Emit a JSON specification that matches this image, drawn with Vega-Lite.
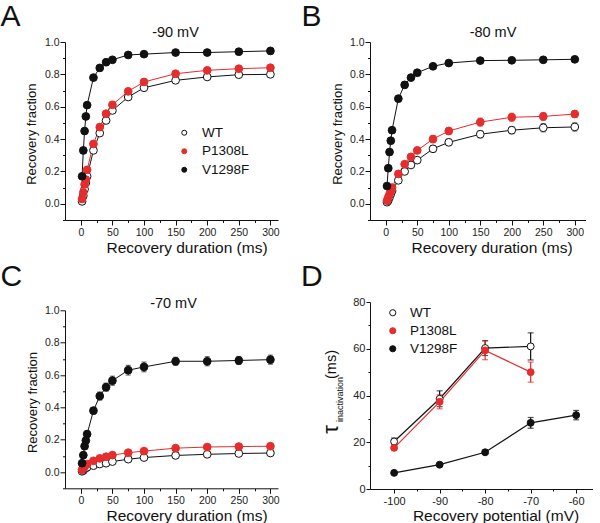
{
"$schema": "https://vega.github.io/schema/vega-lite/v6.json",
"background": "white",
"padding": {"left": 0, "top": 1, "right": 0, "bottom": 0},
"config": {
  "view": {"stroke": null},
  "font": "Liberation Sans",
  "axis": {"grid": false, "domainColor": "#111", "tickColor": "#111", "labelColor": "#222", "titleColor": "#111", "labelFont": "Liberation Sans", "titleFont": "Liberation Sans", "labelFontSize": 10.5, "titleFontSize": 15.5, "titleFontWeight": "normal", "domainWidth": 1, "tickWidth": 1, "labelOverlap": false, "labelBound": false, "labelFlush": false},
  "legend": {"labelFont": "Liberation Sans", "labelColor": "#111"}
},
"datasets": {
  "A": [
    {"g":"WT","t":2,"v":0.015,"e":0.005},{"g":"WT","t":4,"v":0.05,"e":0.008},{"g":"WT","t":6,"v":0.09,"e":0.01},{"g":"WT","t":8,"v":0.13,"e":0.01},{"g":"WT","t":10,"v":0.17,"e":0.012},{"g":"WT","t":20,"v":0.33,"e":0.015},{"g":"WT","t":30,"v":0.437,"e":0.015},{"g":"WT","t":40,"v":0.515,"e":0.015},{"g":"WT","t":50,"v":0.577,"e":0.015},{"g":"WT","t":75,"v":0.66,"e":0.015},{"g":"WT","t":100,"v":0.717,"e":0.012},{"g":"WT","t":150,"v":0.763,"e":0.012},{"g":"WT","t":200,"v":0.784,"e":0.012},{"g":"WT","t":250,"v":0.798,"e":0.012},{"g":"WT","t":300,"v":0.8,"e":0.012},
    {"g":"P1308L","t":2,"v":0.03,"e":0.008},{"g":"P1308L","t":4,"v":0.07,"e":0.01},{"g":"P1308L","t":6,"v":0.12,"e":0.012},{"g":"P1308L","t":8,"v":0.15,"e":0.012},{"g":"P1308L","t":10,"v":0.21,"e":0.015},{"g":"P1308L","t":20,"v":0.37,"e":0.015},{"g":"P1308L","t":30,"v":0.474,"e":0.018},{"g":"P1308L","t":40,"v":0.557,"e":0.018},{"g":"P1308L","t":50,"v":0.612,"e":0.018},{"g":"P1308L","t":75,"v":0.695,"e":0.018},{"g":"P1308L","t":100,"v":0.753,"e":0.015},{"g":"P1308L","t":150,"v":0.804,"e":0.012},{"g":"P1308L","t":200,"v":0.825,"e":0.012},{"g":"P1308L","t":250,"v":0.835,"e":0.012},{"g":"P1308L","t":300,"v":0.841,"e":0.012},
    {"g":"V1298F","t":2,"v":0.17,"e":0.01},{"g":"V1298F","t":4,"v":0.33,"e":0.01},{"g":"V1298F","t":6,"v":0.45,"e":0.01},{"g":"V1298F","t":8,"v":0.54,"e":0.01},{"g":"V1298F","t":10,"v":0.61,"e":0.01},{"g":"V1298F","t":20,"v":0.78,"e":0.01},{"g":"V1298F","t":30,"v":0.84,"e":0.01},{"g":"V1298F","t":40,"v":0.875,"e":0.01},{"g":"V1298F","t":50,"v":0.89,"e":0.01},{"g":"V1298F","t":75,"v":0.92,"e":0.01},{"g":"V1298F","t":100,"v":0.925,"e":0.01},{"g":"V1298F","t":150,"v":0.935,"e":0.01},{"g":"V1298F","t":200,"v":0.935,"e":0.01},{"g":"V1298F","t":250,"v":0.94,"e":0.01},{"g":"V1298F","t":300,"v":0.945,"e":0.01}
  ],
  "B": [
    {"g":"WT","t":2,"v":0.01,"e":0.004},{"g":"WT","t":4,"v":0.02,"e":0.005},{"g":"WT","t":6,"v":0.04,"e":0.007},{"g":"WT","t":8,"v":0.06,"e":0.008},{"g":"WT","t":10,"v":0.08,"e":0.01},{"g":"WT","t":20,"v":0.145,"e":0.012},{"g":"WT","t":30,"v":0.2,"e":0.013},{"g":"WT","t":40,"v":0.24,"e":0.015},{"g":"WT","t":50,"v":0.27,"e":0.015},{"g":"WT","t":75,"v":0.34,"e":0.02},{"g":"WT","t":100,"v":0.38,"e":0.02},{"g":"WT","t":150,"v":0.43,"e":0.022},{"g":"WT","t":200,"v":0.455,"e":0.022},{"g":"WT","t":250,"v":0.47,"e":0.025},{"g":"WT","t":300,"v":0.475,"e":0.025},
    {"g":"P1308L","t":2,"v":0.02,"e":0.005},{"g":"P1308L","t":4,"v":0.04,"e":0.007},{"g":"P1308L","t":6,"v":0.06,"e":0.008},{"g":"P1308L","t":8,"v":0.08,"e":0.01},{"g":"P1308L","t":10,"v":0.1,"e":0.01},{"g":"P1308L","t":20,"v":0.185,"e":0.012},{"g":"P1308L","t":30,"v":0.245,"e":0.015},{"g":"P1308L","t":40,"v":0.29,"e":0.015},{"g":"P1308L","t":50,"v":0.33,"e":0.018},{"g":"P1308L","t":75,"v":0.4,"e":0.022},{"g":"P1308L","t":100,"v":0.45,"e":0.022},{"g":"P1308L","t":150,"v":0.505,"e":0.025},{"g":"P1308L","t":200,"v":0.535,"e":0.025},{"g":"P1308L","t":250,"v":0.54,"e":0.025},{"g":"P1308L","t":300,"v":0.555,"e":0.022},
    {"g":"V1298F","t":2,"v":0.11,"e":0.01},{"g":"V1298F","t":4,"v":0.22,"e":0.01},{"g":"V1298F","t":6,"v":0.32,"e":0.01},{"g":"V1298F","t":8,"v":0.39,"e":0.01},{"g":"V1298F","t":10,"v":0.455,"e":0.01},{"g":"V1298F","t":20,"v":0.65,"e":0.01},{"g":"V1298F","t":30,"v":0.735,"e":0.01},{"g":"V1298F","t":40,"v":0.78,"e":0.01},{"g":"V1298F","t":50,"v":0.81,"e":0.01},{"g":"V1298F","t":75,"v":0.85,"e":0.01},{"g":"V1298F","t":100,"v":0.87,"e":0.01},{"g":"V1298F","t":150,"v":0.885,"e":0.01},{"g":"V1298F","t":200,"v":0.887,"e":0.01},{"g":"V1298F","t":250,"v":0.89,"e":0.01},{"g":"V1298F","t":300,"v":0.893,"e":0.01}
  ],
  "C": [
    {"g":"WT","t":2,"v":0.005,"e":0.006},{"g":"WT","t":4,"v":0.01,"e":0.006},{"g":"WT","t":6,"v":0.02,"e":0.007},{"g":"WT","t":8,"v":0.025,"e":0.008},{"g":"WT","t":10,"v":0.03,"e":0.008},{"g":"WT","t":20,"v":0.04,"e":0.01},{"g":"WT","t":30,"v":0.05,"e":0.01},{"g":"WT","t":40,"v":0.055,"e":0.01},{"g":"WT","t":50,"v":0.065,"e":0.01},{"g":"WT","t":75,"v":0.08,"e":0.012},{"g":"WT","t":100,"v":0.09,"e":0.012},{"g":"WT","t":150,"v":0.103,"e":0.012},{"g":"WT","t":200,"v":0.11,"e":0.012},{"g":"WT","t":250,"v":0.115,"e":0.012},{"g":"WT","t":300,"v":0.118,"e":0.012},
    {"g":"P1308L","t":2,"v":0.015,"e":0.006},{"g":"P1308L","t":4,"v":0.025,"e":0.006},{"g":"P1308L","t":6,"v":0.035,"e":0.007},{"g":"P1308L","t":8,"v":0.045,"e":0.007},{"g":"P1308L","t":10,"v":0.05,"e":0.008},{"g":"P1308L","t":20,"v":0.07,"e":0.008},{"g":"P1308L","t":30,"v":0.085,"e":0.008},{"g":"P1308L","t":40,"v":0.095,"e":0.008},{"g":"P1308L","t":50,"v":0.105,"e":0.008},{"g":"P1308L","t":75,"v":0.12,"e":0.008},{"g":"P1308L","t":100,"v":0.13,"e":0.008},{"g":"P1308L","t":150,"v":0.148,"e":0.008},{"g":"P1308L","t":200,"v":0.155,"e":0.008},{"g":"P1308L","t":250,"v":0.158,"e":0.008},{"g":"P1308L","t":300,"v":0.16,"e":0.008},
    {"g":"V1298F","t":2,"v":0.055,"e":0.01},{"g":"V1298F","t":4,"v":0.105,"e":0.012},{"g":"V1298F","t":6,"v":0.16,"e":0.015},{"g":"V1298F","t":8,"v":0.195,"e":0.015},{"g":"V1298F","t":10,"v":0.235,"e":0.018},{"g":"V1298F","t":20,"v":0.38,"e":0.02},{"g":"V1298F","t":30,"v":0.47,"e":0.025},{"g":"V1298F","t":40,"v":0.525,"e":0.025},{"g":"V1298F","t":50,"v":0.565,"e":0.028},{"g":"V1298F","t":75,"v":0.63,"e":0.03},{"g":"V1298F","t":100,"v":0.65,"e":0.03},{"g":"V1298F","t":150,"v":0.685,"e":0.025},{"g":"V1298F","t":200,"v":0.685,"e":0.028},{"g":"V1298F","t":250,"v":0.69,"e":0.025},{"g":"V1298F","t":300,"v":0.695,"e":0.028}
  ],
  "D": [
    {"g":"WT","t":-100,"v":20.3,"e":1.5},{"g":"WT","t":-90,"v":38.6,"e":3.4},{"g":"WT","t":-80,"v":60.3,"e":3.2},{"g":"WT","t":-70,"v":61,"e":5.8},
    {"g":"P1308L","t":-100,"v":17.6,"e":1},{"g":"P1308L","t":-90,"v":37.3,"e":3},{"g":"P1308L","t":-80,"v":59.3,"e":4},{"g":"P1308L","t":-70,"v":50,"e":4.3},
    {"g":"V1298F","t":-100,"v":6.9,"e":0.5},{"g":"V1298F","t":-90,"v":10.4,"e":0.7},{"g":"V1298F","t":-80,"v":15.7,"e":0.8},{"g":"V1298F","t":-70,"v":28.3,"e":2.3},{"g":"V1298F","t":-60,"v":31.6,"e":2}
  ]
},
"bounds": "flush",
"spacing": 305,
"resolve": {"scale": {"color": "independent", "fill": "independent", "stroke": "independent"}, "legend": {"color": "independent", "fill": "independent", "stroke": "independent"}},
"hconcat": [
 {"vconcat": [
  {
   "width": 213, "height": 178,
   "data": {"name": "A"},
   "resolve": {"axis": {"x": "independent", "y": "independent"}},
   "layer": [
    {"mark": {"type": "line", "strokeWidth": 1},
     "encoding": {
      "x": {"field": "t", "type": "quantitative", "scale": {"domain": [-25, 312], "nice": false, "zero": false},
            "axis": {"orient": "bottom", "values": [0,25,50,75,100,125,150,175,200,225,250,275,300], "labelExpr": "datum.value % 50 === 0 ? datum.value + '' : ''", "tickSize": {"condition": {"test": "datum.value % 50 !== 0", "value": 2.5}, "value": 5}, "labelPadding": 2.5, "title": "Recovery duration (ms)", "titleX": 121.5, "titleY": 32.5, "titleAlign": "center", "titleBaseline": "alphabetic"}},
      "y": {"field": "v", "type": "quantitative", "scale": {"domain": [-0.1, 1.0], "nice": false, "zero": false},
            "axis": {"orient": "left", "values": [-0.1,0,0.1,0.2,0.3,0.4,0.5,0.6,0.7,0.8,0.9,1.0], "labelExpr": "round(datum.value*10) % 2 === 0 ? format(datum.value, '.1f') : ''", "tickSize": {"condition": {"test": "round(datum.value*10) % 2 !== 0", "value": 2.5}, "value": 5}, "labelPadding": 1, "title": "Recovery fraction", "titleFontSize": 13, "titleX": -29.5, "titleY": 91.7, "titleAngle": -90, "titleAlign": "center", "titleBaseline": "alphabetic"}},
      "color": {"field": "g", "type": "nominal", "scale": {"range": ["#e52d2d","#111111","#111111"]}, "legend": null}
     }},
    {"mark": {"type": "errorbar", "ticks": {"size": 5}, "thickness": 1},
     "encoding": {
      "x": {"field": "t", "type": "quantitative", "axis": null},
      "y": {"field": "v", "type": "quantitative", "axis": null},
      "yError": {"field": "e"},
      "color": {"field": "g", "type": "nominal", "scale": {"range": ["#e52d2d","#111111","#111111"]}, "legend": null}
     }},
    {"mark": {"type": "circle", "size": 60, "opacity": 1, "strokeWidth": 1},
     "encoding": {
      "x": {"field": "t", "type": "quantitative", "axis": {"orient": "top", "domain": false, "ticks": false, "labels": false, "title": "-90 mV", "titleFontSize": 14.5, "titleX": 110, "titleY": -6, "titleAlign": "center", "titleBaseline": "alphabetic"}},
      "y": {"field": "v", "type": "quantitative", "axis": {"orient": "left", "domain": false, "ticks": false, "labels": false, "title": "A", "titleFontSize": 30, "titleAngle": 0, "titleX": -65, "titleY": -16.7, "titleAlign": "left", "titleBaseline": "alphabetic"}},
      "fill": {"field": "g", "type": "nominal", "scale": {"domain": ["WT","P1308L","V1298F"], "range": ["#ffffff","#e52d2d","#111111"]},
               "legend": {"orient": "none", "legendX": 112.5, "legendY": 84, "title": null, "labelFontSize": 13.5, "symbolSize": 25, "symbolStrokeWidth": 1, "symbolType": "circle", "labelOffset": 11, "rowPadding": 3.5, "padding": 0}},
      "stroke": {"field": "g", "type": "nominal", "scale": {"domain": ["WT","P1308L","V1298F"], "range": ["#111111","#e52d2d","#111111"]},
               "legend": {"orient": "none", "legendX": 112.5, "legendY": 84, "title": null, "labelFontSize": 13.5, "symbolSize": 25, "symbolStrokeWidth": 1, "symbolType": "circle", "labelOffset": 11, "rowPadding": 3.5, "padding": 0}}
     }}
   ]
  },
  {
   "width": 213, "height": 178,
   "data": {"name": "C"},
   "resolve": {"axis": {"x": "independent", "y": "independent"}},
   "layer": [
    {"mark": {"type": "line", "strokeWidth": 1},
     "encoding": {
      "x": {"field": "t", "type": "quantitative", "scale": {"domain": [-25, 312], "nice": false, "zero": false},
            "axis": {"orient": "bottom", "values": [0,25,50,75,100,125,150,175,200,225,250,275,300], "labelExpr": "datum.value % 50 === 0 ? datum.value + '' : ''", "tickSize": {"condition": {"test": "datum.value % 50 !== 0", "value": 2.5}, "value": 5}, "labelPadding": 2.5, "title": "Recovery duration (ms)", "titleX": 121.5, "titleY": 32.5, "titleAlign": "center", "titleBaseline": "alphabetic"}},
      "y": {"field": "v", "type": "quantitative", "scale": {"domain": [-0.1, 1.0], "nice": false, "zero": false},
            "axis": {"orient": "left", "values": [-0.1,0,0.1,0.2,0.3,0.4,0.5,0.6,0.7,0.8,0.9,1.0], "labelExpr": "round(datum.value*10) % 2 === 0 ? format(datum.value, '.1f') : ''", "tickSize": {"condition": {"test": "round(datum.value*10) % 2 !== 0", "value": 2.5}, "value": 5}, "labelPadding": 1, "title": "Recovery fraction", "titleFontSize": 13, "titleX": -29, "titleY": 91.7, "titleAngle": -90, "titleAlign": "center", "titleBaseline": "alphabetic"}},
      "color": {"field": "g", "type": "nominal", "scale": {"range": ["#e52d2d","#111111","#111111"]}, "legend": null}
     }},
    {"mark": {"type": "errorbar", "ticks": {"size": 5}, "thickness": 1},
     "encoding": {
      "x": {"field": "t", "type": "quantitative", "axis": null},
      "y": {"field": "v", "type": "quantitative", "axis": null},
      "yError": {"field": "e"},
      "color": {"field": "g", "type": "nominal", "scale": {"range": ["#e52d2d","#111111","#111111"]}, "legend": null}
     }},
    {"mark": {"type": "circle", "size": 60, "opacity": 1, "strokeWidth": 1},
     "encoding": {
      "x": {"field": "t", "type": "quantitative", "axis": {"orient": "top", "domain": false, "ticks": false, "labels": false, "title": "-70 mV", "titleFontSize": 14.5, "titleX": 108, "titleY": -3, "titleAlign": "center", "titleBaseline": "alphabetic"}},
      "y": {"field": "v", "type": "quantitative", "axis": {"orient": "left", "domain": false, "ticks": false, "labels": false, "title": "C", "titleFontSize": 30, "titleAngle": 0, "titleX": -65, "titleY": -25, "titleAlign": "left", "titleBaseline": "alphabetic"}},
      "fill": {"field": "g", "type": "nominal", "scale": {"domain": ["WT","P1308L","V1298F"], "range": ["#ffffff","#e52d2d","#111111"]}, "legend": null},
      "stroke": {"field": "g", "type": "nominal", "scale": {"domain": ["WT","P1308L","V1298F"], "range": ["#111111","#e52d2d","#111111"]}, "legend": null}
     }}
   ]
  }
 ], "spacing": 90.3, "bounds": "flush",
 "resolve": {"scale": {"color": "independent", "fill": "independent", "stroke": "independent"}, "legend": {"color": "independent", "fill": "independent", "stroke": "independent"}}},
 {"vconcat": [
  {
   "width": 215.5, "height": 178,
   "data": {"name": "B"},
   "resolve": {"axis": {"x": "independent", "y": "independent"}},
   "layer": [
    {"mark": {"type": "line", "strokeWidth": 1},
     "encoding": {
      "x": {"field": "t", "type": "quantitative", "scale": {"domain": [-25, 317], "nice": false, "zero": false},
            "axis": {"orient": "bottom", "values": [0,25,50,75,100,125,150,175,200,225,250,275,300], "labelExpr": "datum.value % 50 === 0 ? datum.value + '' : ''", "tickSize": {"condition": {"test": "datum.value % 50 !== 0", "value": 2.5}, "value": 5}, "labelPadding": 2.5, "title": "Recovery duration (ms)", "titleX": 121.5, "titleY": 32.5, "titleAlign": "center", "titleBaseline": "alphabetic"}},
      "y": {"field": "v", "type": "quantitative", "scale": {"domain": [-0.1, 1.0], "nice": false, "zero": false},
            "axis": {"orient": "left", "values": [-0.1,0,0.1,0.2,0.3,0.4,0.5,0.6,0.7,0.8,0.9,1.0], "labelExpr": "round(datum.value*10) % 2 === 0 ? format(datum.value, '.1f') : ''", "tickSize": {"condition": {"test": "round(datum.value*10) % 2 !== 0", "value": 2.5}, "value": 5}, "labelPadding": 1, "title": "Recovery fraction", "titleFontSize": 13, "titleX": -28.5, "titleY": 91.7, "titleAngle": -90, "titleAlign": "center", "titleBaseline": "alphabetic"}},
      "color": {"field": "g", "type": "nominal", "scale": {"range": ["#e52d2d","#111111","#111111"]}, "legend": null}
     }},
    {"mark": {"type": "errorbar", "ticks": {"size": 5}, "thickness": 1},
     "encoding": {
      "x": {"field": "t", "type": "quantitative", "axis": null},
      "y": {"field": "v", "type": "quantitative", "axis": null},
      "yError": {"field": "e"},
      "color": {"field": "g", "type": "nominal", "scale": {"range": ["#e52d2d","#111111","#111111"]}, "legend": null}
     }},
    {"mark": {"type": "circle", "size": 60, "opacity": 1, "strokeWidth": 1},
     "encoding": {
      "x": {"field": "t", "type": "quantitative", "axis": {"orient": "top", "domain": false, "ticks": false, "labels": false, "title": "-80 mV", "titleFontSize": 14.5, "titleX": 122.5, "titleY": -6, "titleAlign": "center", "titleBaseline": "alphabetic"}},
      "y": {"field": "v", "type": "quantitative", "axis": {"orient": "left", "domain": false, "ticks": false, "labels": false, "title": "B", "titleFontSize": 30, "titleAngle": 0, "titleX": -69, "titleY": -16.7, "titleAlign": "left", "titleBaseline": "alphabetic"}},
      "fill": {"field": "g", "type": "nominal", "scale": {"domain": ["WT","P1308L","V1298F"], "range": ["#ffffff","#e52d2d","#111111"]}, "legend": null},
      "stroke": {"field": "g", "type": "nominal", "scale": {"domain": ["WT","P1308L","V1298F"], "range": ["#111111","#e52d2d","#111111"]}, "legend": null}
     }}
   ]
  },
  {
   "width": 223, "height": 187,
   "data": {"name": "D"},
   "resolve": {"axis": {"x": "independent", "y": "independent"}},
   "layer": [
    {"mark": {"type": "line", "strokeWidth": 1.2},
     "encoding": {
      "x": {"field": "t", "type": "quantitative", "scale": {"domain": [-105.3, -56.3], "nice": false, "zero": false},
            "axis": {"orient": "bottom", "values": [-100,-95,-90,-85,-80,-75,-70,-65,-60], "labelExpr": "datum.value % 10 === 0 ? datum.value + '' : ''", "tickSize": {"condition": {"test": "datum.value % 10 !== 0", "value": 2}, "value": 4}, "labelPadding": 2, "labelFontSize": 11, "title": "Recovery potential (mV)", "titleX": 125.5, "titleY": 31.6, "titleAlign": "center", "titleBaseline": "alphabetic"}},
      "y": {"field": "v", "type": "quantitative", "scale": {"domain": [0, 80], "nice": false, "zero": false},
            "axis": {"orient": "left", "values": [0,10,20,30,40,50,60,70,80], "labelExpr": "datum.value % 20 === 0 ? datum.value + '' : ''", "tickSize": {"condition": {"test": "datum.value % 20 !== 0", "value": 2}, "value": 4}, "labelPadding": 1, "labelFontSize": 11, "title": "τ", "titleFontSize": 22, "titleX": -33, "titleY": 127, "titleAngle": -90, "titleAlign": "center", "titleBaseline": "alphabetic"}},
      "color": {"field": "g", "type": "nominal", "scale": {"range": ["#e52d2d","#111111","#111111"]}, "legend": null}
     }},
    {"mark": {"type": "errorbar", "ticks": {"size": 6}, "thickness": 1.2},
     "encoding": {
      "x": {"field": "t", "type": "quantitative", "axis": null},
      "y": {"field": "v", "type": "quantitative", "axis": {"orient": "left", "domain": false, "ticks": false, "labels": false, "title": "inactivation", "titleFontSize": 9, "titleX": -28, "titleY": 97, "titleAngle": -90, "titleAlign": "center", "titleBaseline": "alphabetic"}},
      "yError": {"field": "e"},
      "color": {"field": "g", "type": "nominal", "scale": {"range": ["#e52d2d","#111111","#111111"]}, "legend": null}
     }},
    {"mark": {"type": "circle", "size": 48, "opacity": 1, "strokeWidth": 1},
     "encoding": {
      "x": {"field": "t", "type": "quantitative", "axis": {"orient": "top", "domain": false, "ticks": false, "labels": false, "title": "D", "titleFontSize": 30, "titleX": -69.5, "titleY": -16.7, "titleAlign": "left", "titleBaseline": "alphabetic"}},
      "y": {"field": "v", "type": "quantitative", "axis": {"orient": "left", "domain": false, "ticks": false, "labels": false, "title": "(ms)", "titleFontSize": 14.5, "titleX": -35, "titleY": 62, "titleAngle": -90, "titleAlign": "center", "titleBaseline": "alphabetic"}},
      "fill": {"field": "g", "type": "nominal", "scale": {"domain": ["WT","P1308L","V1298F"], "range": ["#ffffff","#e52d2d","#111111"]},
               "legend": {"orient": "none", "legendX": 16, "legendY": 4, "title": null, "labelFontSize": 13.5, "symbolSize": 38, "symbolStrokeWidth": 1, "symbolType": "circle", "labelOffset": 10.5, "rowPadding": 3, "padding": 0}},
      "stroke": {"field": "g", "type": "nominal", "scale": {"domain": ["WT","P1308L","V1298F"], "range": ["#111111","#e52d2d","#111111"]},
               "legend": {"orient": "none", "legendX": 16, "legendY": 4, "title": null, "labelFontSize": 13.5, "symbolSize": 38, "symbolStrokeWidth": 1, "symbolType": "circle", "labelOffset": 10.5, "rowPadding": 3, "padding": 0}}
     }}
   ]
  }
 ], "spacing": 82, "bounds": "flush",
 "resolve": {"scale": {"color": "independent", "fill": "independent", "stroke": "independent"}, "legend": {"color": "independent", "fill": "independent", "stroke": "independent"}}}
]
}
